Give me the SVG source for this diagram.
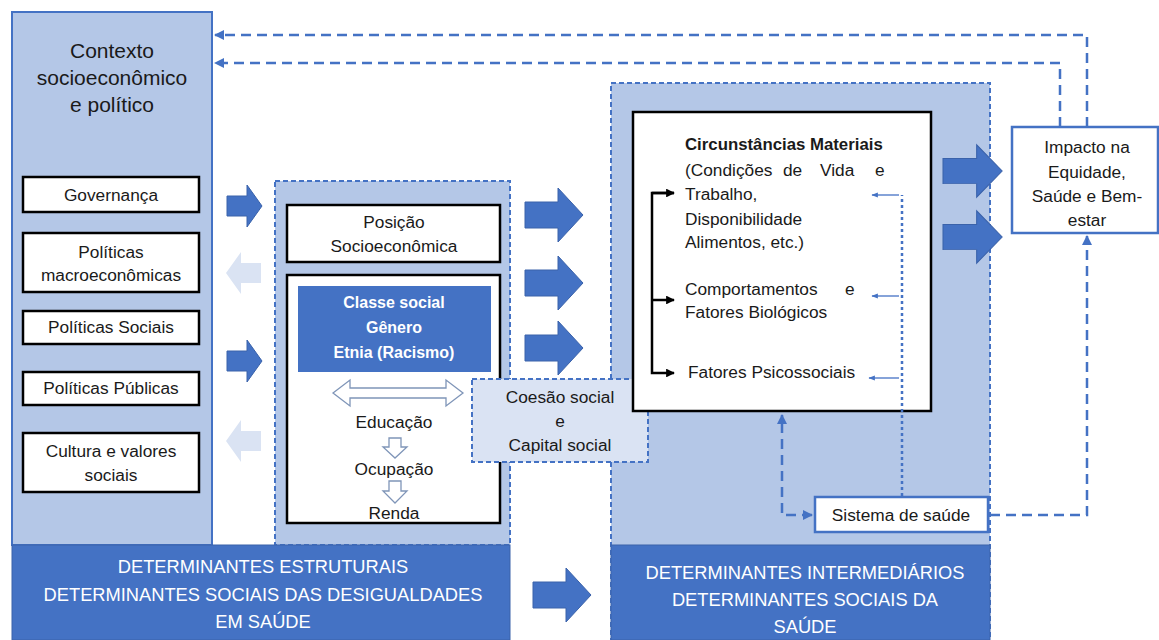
<svg xmlns="http://www.w3.org/2000/svg" width="1159" height="640" viewBox="0 0 1159 640">
<style>
text{font-family:"Liberation Sans",Arial,sans-serif;font-size:17.3px;fill:#1a1a1a}
.c{text-anchor:middle}
.w{fill:#ffffff}
.b{font-weight:bold;font-size:16px}
.ban{font-size:18.3px;fill:#ffffff;text-anchor:middle}
.ctx{font-size:21px;text-anchor:middle}
.box{fill:#ffffff;stroke:#000000;stroke-width:2.5}
.bbox{fill:#ffffff;stroke:#4472C4;stroke-width:2.5}
.panel{fill:#B4C7E7;stroke:#4472C4;stroke-width:2;stroke-dasharray:5 3}
.dash{fill:none;stroke:#4472C4;stroke-width:2.5;stroke-dasharray:10 6}
.dot{fill:none;stroke:#4472C4;stroke-width:2.5;stroke-dasharray:3 3}
.thin{fill:none;stroke:#4472C4;stroke-width:1.3}
.blk{fill:none;stroke:#000000;stroke-width:2.5}
.dk{fill:#4472C4;stroke:#3A62AA;stroke-width:1}
.lt{fill:#DAE3F3}
.ol{fill:#ffffff;stroke:#7F95B8;stroke-width:1.3}
</style>
<defs>
<marker id="mb" viewBox="0 0 10 10" refX="9" refY="5" markerWidth="4" markerHeight="4" orient="auto-start-reverse"><path d="M0,0 L10,5 L0,10 Z" fill="#4472C4"/></marker>
<marker id="ms" viewBox="0 0 10 10" refX="9" refY="5" markerWidth="6" markerHeight="5" orient="auto"><path d="M0,1 L10,5 L0,9 Z" fill="#4472C4"/></marker>
<marker id="mk" viewBox="0 0 10 10" refX="9" refY="5" markerWidth="3.5" markerHeight="3.5" orient="auto"><path d="M0,0 L10,5 L0,10 Z" fill="#000000"/></marker>
<path id="arA" d="M0,-10 H20 V-21 L35,0 L20,21 V10 H0 Z"/>
<path id="arB" d="M0,-13 H33 V-27 L58,0 L33,27 V13 H0 Z"/>
</defs>

<!-- panels -->
<g id="contexto">
<rect x="12" y="12" width="200" height="533" fill="#B4C7E7" stroke="#4472C4" stroke-width="2"/>
<text class="ctx" x="112" y="58">Contexto</text>
<text class="ctx" x="112" y="85">socioeconômico</text>
<text class="ctx" x="112" y="112">e político</text>
</g>
<g id="painel-estrutural"><rect class="panel" x="275" y="181" width="235" height="364"/></g>
<g id="painel-intermediario"><rect class="panel" x="611" y="83" width="379" height="557"/></g>

<g id="banner-estrutural">
<rect x="12" y="545" width="498" height="95" fill="#4472C4" stroke="#3A62AA" stroke-width="1"/>
<text class="ban" x="263" y="573">DETERMINANTES ESTRUTURAIS</text>
<text class="ban" x="263" y="601">DETERMINANTES SOCIAIS DAS DESIGUALDADES</text>
<text class="ban" x="263" y="628">EM SAÚDE</text>
</g>
<g id="banner-intermediario">
<rect x="611" y="545" width="379" height="95" fill="#4472C4" stroke="#3A62AA" stroke-width="1"/>
<text class="ban" x="805" y="579">DETERMINANTES INTERMEDIÁRIOS</text>
<text class="ban" x="805" y="606">DETERMINANTES SOCIAIS DA</text>
<text class="ban" x="805" y="633">SAÚDE</text>
</g>

<!-- left boxes -->
<g id="governanca"><rect class="box" x="23" y="177" width="176" height="35"/><text class="c" x="111" y="201">Governança</text></g>
<g id="politicas-macro"><rect class="box" x="23" y="233" width="176" height="59"/><text class="c" x="111" y="258">Políticas</text><text class="c" x="111" y="281">macroeconômicas</text></g>
<g id="politicas-sociais"><rect class="box" x="23" y="311" width="176" height="33"/><text class="c" x="111" y="333">Políticas Sociais</text></g>
<g id="politicas-publicas"><rect class="box" x="23" y="372" width="176" height="33"/><text class="c" x="111" y="394">Políticas Públicas</text></g>
<g id="cultura"><rect class="box" x="23" y="433" width="176" height="59"/><text class="c" x="111" y="457">Cultura e valores</text><text class="c" x="111" y="481">sociais</text></g>

<!-- middle -->
<g id="posicao"><rect class="box" x="287" y="205" width="213" height="57"/><text class="c" x="394" y="228">Posição</text><text class="c" x="394" y="252">Socioeconômica</text></g>
<g id="estratificacao">
<rect class="box" x="287" y="275" width="213" height="248"/>
<rect x="298" y="286" width="193" height="86" fill="#4472C4"/>
<text class="c w b" x="394" y="308">Classe social</text>
<text class="c w b" x="394" y="333">Gênero</text>
<text class="c w b" x="394" y="358">Etnia (Racismo)</text>
<path class="ol" d="M333,393 L350,380 V388 H446 V380 L463,393 L446,406 V398 H350 V406 Z"/>
<text class="c" x="394" y="428">Educação</text>
<path class="ol" d="M389,438 H401 V447 H407 L395,458 L383,447 H389 Z"/>
<text class="c" x="394" y="475">Ocupação</text>
<path class="ol" d="M389,481 H401 V491 H407 L395,503 L383,491 H389 Z"/>
<text class="c" x="394" y="519">Renda</text>
</g>

<g id="coesao"><rect x="472" y="379" width="176" height="83" fill="#DAE3F3" stroke="#4472C4" stroke-width="2" stroke-dasharray="5 3"/>
<text class="c" x="560" y="403">Coesão social</text><text class="c" x="560" y="427">e</text><text class="c" x="560" y="451">Capital social</text></g>

<!-- right -->
<g id="circunstancias">
<rect class="box" x="633" y="112" width="298" height="299"/>
<text class="b" x="685" y="150" style="font-size:16.8px">Circunstâncias  Materiais</text>
<text x="685" y="176">(Condições</text><text x="783" y="176">de</text><text x="820" y="176">Vida</text><text x="875" y="176">e</text>
<text x="685" y="200">Trabalho,</text>
<text x="685" y="225">Disponibilidade</text>
<text x="685" y="248">Alimentos, etc.)</text>
<text x="685" y="295">Comportamentos</text><text x="845" y="295">e</text>
<text x="685" y="318">Fatores Biológicos</text>
<text x="688" y="378">Fatores Psicossociais</text>
</g>
<g id="impacto"><rect class="bbox" x="1012" y="127" width="146" height="106"/>
<text class="c" x="1087" y="153">Impacto na</text><text class="c" x="1087" y="178">Equidade,</text><text class="c" x="1087" y="202">Saúde e Bem-</text><text class="c" x="1087" y="226">estar</text></g>
<g id="sistema"><rect class="bbox" x="815" y="497" width="173" height="35"/><text class="c" x="901" y="521">Sistema de saúde</text></g>

<!-- connectors -->
<g id="connectors">
<path class="dash" d="M1087,127 V35 H215" marker-end="url(#mb)"/>
<path class="dash" d="M1060,127 V63 H215" marker-end="url(#mb)"/>
<path class="dash" d="M990,515 H1087 V236" marker-end="url(#mb)"/>
<path class="dash" d="M812,515 H782 V415" marker-start="url(#mb)" marker-end="url(#mb)"/>
<path class="dot" d="M902,496 V195"/>
<path class="thin" d="M899,195 H872" marker-end="url(#ms)"/>
<path class="thin" d="M899,296 H872" marker-end="url(#ms)"/>
<path class="thin" d="M899,378 H869" marker-end="url(#ms)"/>
<path class="blk" d="M674,193 H652 V373 H674" marker-end="url(#mk)"/>
<path class="blk" d="M652,193 H674" marker-end="url(#mk)"/>
<path class="blk" d="M652,300 H674" marker-end="url(#mk)"/>
<use href="#arA" class="dk" transform="translate(227,206)"/>
<use href="#arA" class="dk" transform="translate(227,361)"/>
<use href="#arA" class="lt" transform="translate(261,273) scale(-1,1)"/>
<use href="#arA" class="lt" transform="translate(261,441) scale(-1,1)"/>
<use href="#arB" class="dk" transform="translate(525,215)"/>
<use href="#arB" class="dk" transform="translate(525,283)"/>
<use href="#arB" class="dk" transform="translate(525,348)"/>
<use href="#arB" class="dk" transform="translate(943,171) scale(1.02,0.97)"/>
<use href="#arB" class="dk" transform="translate(943,237) scale(1.02,0.97)"/>
<use href="#arB" class="dk" transform="translate(533,595)"/>
</g>
</svg>
